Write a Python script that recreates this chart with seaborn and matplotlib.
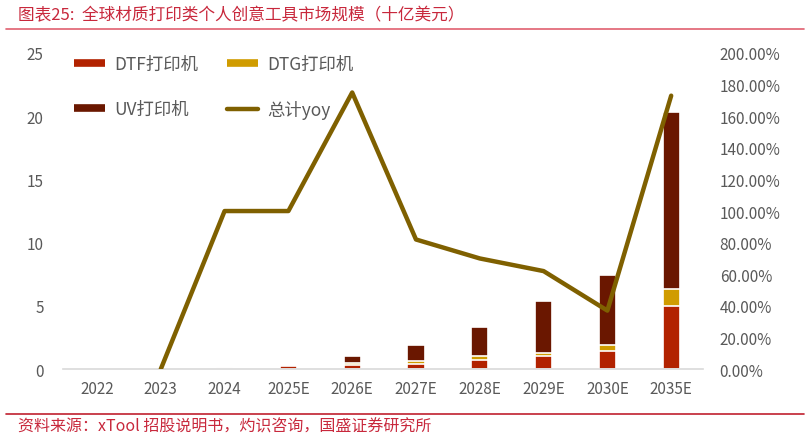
"""
Global material-printing personal creative tools market size chart.
"""

import matplotlib.pyplot as plt
import seaborn as sns
import numpy as np
import pandas as pd
from matplotlib.lines import Line2D

sns.set_style("white")
plt.rcParams['font.family'] = ['Noto Sans CJK SC', 'DejaVu Sans']

# Data (billion USD)
years = ['2022', '2023', '2024', '2025E', '2026E', '2027E', '2028E', '2029E', '2030E', '2035E']
dtf = [0.0, 0.0, 0.08, 0.22, 0.35, 0.40, 0.75, 1.00, 1.40, 5.00]
dtg = [0.0, 0.0, 0.02, 0.03, 0.10, 0.20, 0.25, 0.30, 0.50, 1.30]
uv = [0.0, 0.0, 0.08, 0.10, 0.58, 1.30, 2.30, 4.10, 5.55, 14.05]
yoy_years = ['2023', '2024', '2025E', '2026E', '2027E', '2028E', '2029E', '2030E', '2035E']
yoy = [0.0, 100.0, 100.0, 175.0, 82.0, 70.0, 62.0, 37.0, 173.0]

c_dtf = '#B22200'
c_dtg = '#D09C00'
c_uv = '#6A1700'
c_line = '#7F6000'
c_red = '#C8283C'
c_text = '#595959'

df = pd.DataFrame({'year': years, 'dtf': dtf, 'dtg': dtg, 'uv': uv})
df['s1'] = df['dtf']
df['s2'] = df['dtf'] + df['dtg']
df['s3'] = df['s2'] + df['uv']

fig = plt.figure(figsize=(8.1, 4.39), dpi=100)
ax = fig.add_axes([0.078, 0.157, 0.79, 0.72])

# stacked bars: draw totals first, then overlay the lower parts
for col, color in [('s3', c_uv), ('s2', c_dtg), ('s1', c_dtf)]:
    sns.barplot(data=df, x='year', y=col, color=color, width=0.27,
                edgecolor='white', linewidth=1.2, saturation=1, ax=ax)

ax.set_xlim(-0.53, 9.5)
ax.set_ylim(0, 25)
ax.set_yticks([0, 5, 10, 15, 20, 25])
ax.set_xlabel('')
ax.set_ylabel('')
ax.tick_params(axis='both', length=0, colors=c_text, labelsize=11)
ax.tick_params(axis='x', pad=8)
ax.tick_params(axis='y', pad=14)
for s in ['top', 'left', 'right']:
    ax.spines[s].set_visible(False)
ax.spines['bottom'].set_color('#D9D9D9')
ax.spines['bottom'].set_linewidth(1.2)

# yoy line on secondary axis
ax2 = ax.twinx()
line_df = pd.DataFrame({'pos': [years.index(y) for y in yoy_years], 'yoy': yoy})
sns.lineplot(data=line_df, x='pos', y='yoy', color=c_line, linewidth=3.2, ax=ax2)
ax2.set_ylim(0, 200)
ax2.set_yticks(np.arange(0, 201, 20))
ax2.set_yticklabels([f'{v:.2f}%' for v in np.arange(0, 201, 20)])
ax2.set_ylabel('')
ax2.tick_params(axis='y', length=0, colors=c_text, labelsize=11, pad=12)
for s in ['top', 'left', 'right', 'bottom']:
    ax2.spines[s].set_visible(False)

# legend
handles = [
    Line2D([0], [0], color=c_dtf, linewidth=5.5, solid_capstyle='butt'),
    Line2D([0], [0], color=c_uv, linewidth=5.5, solid_capstyle='butt'),
    Line2D([0], [0], color=c_dtg, linewidth=5.5, solid_capstyle='butt'),
    Line2D([0], [0], color=c_line, linewidth=3.2, solid_capstyle='round'),
]
labels = ['DTF打印机', 'UV打印机', 'DTG打印机', '总计yoy']
leg = fig.legend(handles, labels, ncol=2, loc='upper left',
                 bbox_to_anchor=(0.072, 0.908), frameon=False, fontsize=12.5,
                 handlelength=1.8, handletextpad=0.55, columnspacing=1.6,
                 labelspacing=1.55, labelcolor=c_text)

# title, source and red rules
fig.text(0.022, 0.965, '图表25:  全球材质打印类个人创意工具市场规模（十亿美元）',
         color=c_red, fontsize=12, va='center', ha='left', style='italic')
fig.text(0.022, 0.028, '资料来源：xTool 招股说明书，灼识咨询，国盛证券研究所',
         color=c_red, fontsize=11.5, va='center', ha='left', style='italic')
fig.add_artist(Line2D([0.008, 0.992], [0.932, 0.932], color='#E06070', linewidth=1.2))
fig.add_artist(Line2D([0.008, 0.992], [0.055, 0.055], color='#C0202F', linewidth=1.2))

plt.savefig('out.png', dpi=100)
plt.close()
